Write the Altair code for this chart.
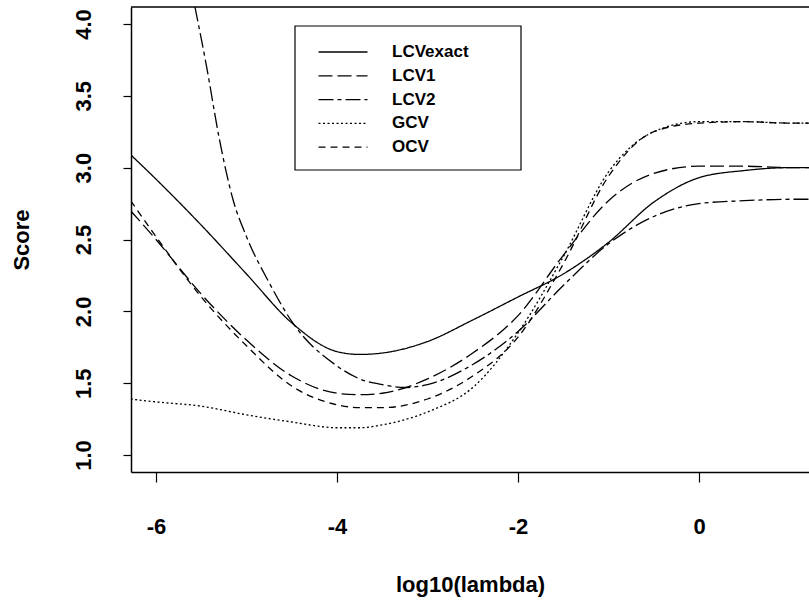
import altair as alt
import pandas as pd

# ---------------- data ----------------
x_grid = [-6.28, -6.0, -5.5, -5.0, -4.5, -4.0, -3.75, -3.5, -3.0, -2.5,
          -2.0, -1.5, -1.0, -0.5, 0.0, 0.5, 1.0, 1.25]
lcv_exact = [3.09, 2.92, 2.60, 2.26, 1.92, 1.72, 1.70, 1.71, 1.79, 1.94,
             2.10, 2.26, 2.48, 2.76, 2.93, 2.98, 3.00, 3.00]
lcv1 = [2.70, 2.50, 2.12, 1.80, 1.55, 1.43, 1.42, 1.43, 1.53, 1.71,
        1.97, 2.39, 2.77, 2.96, 3.01, 3.01, 3.00, 3.00]
gcv = [1.39, 1.37, 1.34, 1.28, 1.23, 1.19, 1.19, 1.21, 1.30, 1.47,
       1.85, 2.38, 2.97, 3.25, 3.32, 3.32, 3.31, 3.31]
ocv = [2.77, 2.52, 2.10, 1.76, 1.48, 1.35, 1.33, 1.33, 1.39, 1.55,
       1.82, 2.33, 2.94, 3.25, 3.31, 3.32, 3.31, 3.31]
lcv2_x = [-5.57, -5.44, -5.3, -5.15, -5.0, -4.75, -4.5, -4.0, -3.75, -3.5,
          -3.25, -3.0, -2.5, -2.0, -1.5, -1.0, -0.5, 0.0, 0.5, 1.0, 1.25]
lcv2 = [4.12, 3.70, 3.20, 2.78, 2.52, 2.20, 1.93, 1.62, 1.53, 1.49,
        1.47, 1.49, 1.63, 1.86, 2.18, 2.47, 2.66, 2.75, 2.77, 2.78, 2.78]

series_names = ["LCVexact", "LCV1", "LCV2", "GCV", "OCV"]
dash_patterns = [[1, 0], [14, 5], [15, 4, 4, 4], [2, 2.5], [7, 5]]
x_ticks = [-6, -4, -2, 0]
y_ticks = [1.0, 1.5, 2.0, 2.5, 3.0, 3.5, 4.0]
x_domain = [-6.276, 1.215]
y_domain = [0.882, 4.118]

rows = []
for name, xs, ys in [("LCVexact", x_grid, lcv_exact), ("LCV1", x_grid, lcv1),
                     ("LCV2", lcv2_x, lcv2), ("GCV", x_grid, gcv),
                     ("OCV", x_grid, ocv)]:
    for xv, yv in zip(xs, ys):
        rows.append({"series": name, "x": xv, "score": yv})
df = pd.DataFrame(rows)

FONT = "Liberation Sans"
W, H = 678, 465

lines = alt.Chart(df).mark_line(
    color="black", strokeWidth=1.3, clip=True, interpolate="monotone"
).encode(
    x=alt.X("x:Q",
            scale=alt.Scale(domain=x_domain, nice=False, zero=False),
            axis=alt.Axis(values=x_ticks, title="log10(lambda)",
                          labelExpr="toString(datum.value)",
                          tickSize=10, labelPadding=51,
                          labelBaseline="alphabetic",
                          titleY=119, titleX=W / 2, titleBaseline="alphabetic",
                          titleAlign="center")),
    y=alt.Y("score:Q",
            scale=alt.Scale(domain=y_domain, nice=False, zero=False),
            axis=alt.Axis(values=y_ticks, format=".1f", title="Score",
                          tickSize=8, labelPadding=33, labelAngle=270,
                          labelAlign="center", labelBaseline="alphabetic",
                          titleAngle=270, titleX=-103, titleY=H / 2,
                          titleBaseline="alphabetic", titleAlign="center")),
    strokeDash=alt.StrokeDash(
        "series:N",
        scale=alt.Scale(domain=series_names, range=dash_patterns),
        legend=alt.Legend(title=None, orient="none", legendX=199, legendY=32,
                          symbolType="M-2,0H2", symbolSize=600,
                          symbolStrokeWidth=1.3, symbolStrokeColor="black",
                          symbolFillColor="transparent",
                          labelFont=FONT, labelFontSize=17,
                          labelFontWeight="bold", labelOffset=36,
                          rowPadding=2.8, padding=0)),
    order="x:Q",
)

one = pd.DataFrame({"a": [0]})
top_border = alt.Chart(one).mark_rule(color="black", strokeWidth=1.5).encode(
    x=alt.value(0), x2=alt.value(W), y=alt.value(0))
legend_box = alt.Chart(one).mark_rect(
    fill="white", stroke="black", strokeWidth=1.2).encode(
    x=alt.value(164), x2=alt.value(390), y=alt.value(19), y2=alt.value(163))

chart = alt.layer(lines, top_border, legend_box).properties(
    width=W, height=H,
    autosize=alt.AutoSizeParams(type="none"),
    padding={"left": 131, "top": 7, "right": 0, "bottom": 129},
    background="white",
).configure_view(stroke=None).configure_axis(
    grid=False, domainColor="black", domainWidth=1.5, tickColor="black",
    tickWidth=1.2, labelColor="black", titleColor="black",
    labelFont=FONT, labelFontSize=22, labelFontWeight="bold",
    titleFont=FONT, titleFontSize=22, titleFontWeight="bold",
)

chart.save("out.html", embed_options={"renderer": "svg", "actions": False})
